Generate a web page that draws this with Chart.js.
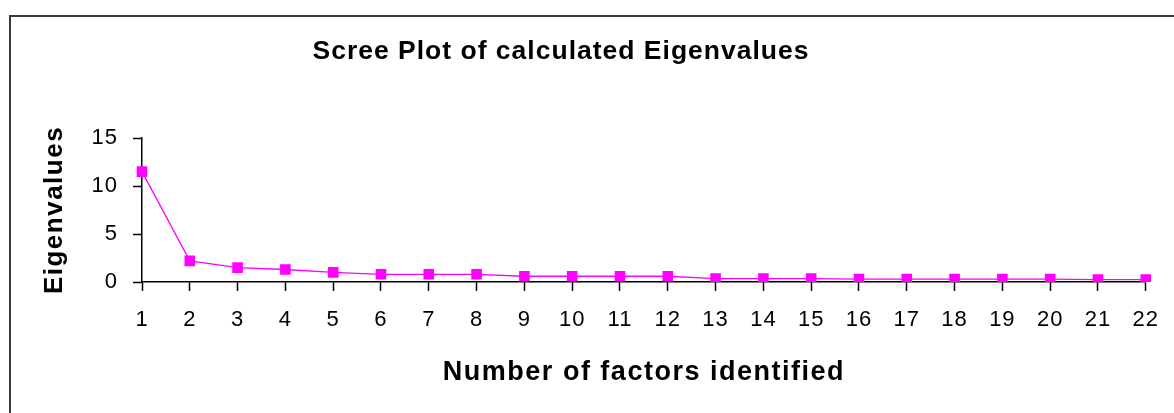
<!DOCTYPE html>
<html>
<head>
<meta charset="utf-8">
<script src="https://cdn.jsdelivr.net/npm/chart.js@4"></script>
<style>
  html, body { margin: 0; padding: 0; background: #fff; overflow: hidden; }
  body { width: 1174px; height: 413px; position: relative; }
  /* canvas sits 27px left of the page so the title centres where the original does */
  #myChart { position: absolute; left: -27px; top: 0; }
  #frame { position: absolute; left: 9px; top: 15px; width: 1300px; height: 500px;
           border-left: 2px solid #3a3a3a; border-top: 2px solid #3a3a3a; pointer-events: none; }
</style>
</head>
<body>
<canvas id="myChart" width="1201" height="413"></canvas>
<div id="frame"></div>
<script>
factors = ["1","2","3","4","5","6","7","8","9","10","11","12","13","14","15","16","17","18","19","20","21","22"];
eigenvalues = [11.5, 2.2, 1.5, 1.3, 1.0, 0.8, 0.8, 0.8, 0.6, 0.6, 0.6, 0.6, 0.35, 0.35, 0.35, 0.3, 0.3, 0.3, 0.3, 0.3, 0.25, 0.25];
yTicks = [0, 5, 10, 15];

const FONT = "'Liberation Sans', Arial, sans-serif";

// excel-ish wide text: a bit of spacing everywhere, a little more on axis titles
const spacing = {
  id: 'spacing',
  beforeDraw(chart) {
    chart.ctx.letterSpacing = '1px';
    Object.values(chart.scales).forEach(s => {
      if (s._wrapped) return;
      const orig = s.drawTitle;
      s.drawTitle = function () {
        const ctx = this.ctx;
        ctx.letterSpacing = '1.5px';
        orig.call(this);
        ctx.letterSpacing = '1px';
      };
      s._wrapped = true;
    });
  }
};

function displayData() {
  const ctx = document.getElementById('myChart');

  new Chart(ctx, {
    type: 'line',
    data: {
      labels: factors,
      datasets: [{
        data: eigenvalues,
        borderColor: "#ff00ff",
        borderWidth: 1.3,
        backgroundColor: "#ff00ff",
        pointStyle: 'rect',
        pointRadius: 7.5,
        pointBorderWidth: 0,
        pointBackgroundColor: "#ff00ff",
        tension: 0
      }]
    },
    options: {
      responsive: false,
      animation: false,
      layout: { padding: { left: 0, right: 25, top: 0, bottom: 0 } },
      plugins: {
        legend: { display: false },
        tooltip: { enabled: false },
        title: {
          display: true,
          text: "Scree Plot of calculated Eigenvalues",
          color: "#000",
          font: { family: FONT, size: 26.5, weight: 'bold' },
          padding: { top: 35.6, bottom: 70.6 }
        }
      },
      scales: {
        x: {
          offset: false,
          afterFit: s => { s.height = 131; },
          grid: { display: true, drawOnChartArea: false, drawTicks: true, tickLength: 9,
                  tickColor: "#000", tickWidth: 1.5, offset: false },
          border: { color: "#000", width: 1.5 },
          ticks: { color: "#000", font: { family: FONT, size: 22 }, padding: 16,
                   maxRotation: 0, autoSkip: false },
          title: { display: true, text: "Number of factors identified", color: "#000",
                   font: { family: FONT, size: 27, weight: 'bold' },
                   padding: { top: 0, bottom: 24.3 } }
        },
        y: {
          min: 0,
          max: 15,
          afterFit: s => { s.width = 169; },
          afterBuildTicks: s => { s.ticks = yTicks.map(v => ({ value: v })); },
          grid: { display: true, drawOnChartArea: false, drawTicks: true, tickLength: 9,
                  tickColor: "#000", tickWidth: 1.5 },
          border: { color: "#000", width: 1.5 },
          ticks: { color: "#000", font: { family: FONT, size: 22 }, padding: 15 },
          title: { display: true, text: "Eigenvalues", color: "#000",
                   font: { family: FONT, size: 26, weight: 'bold' },
                   padding: { top: 66.4, bottom: 0 } }
        }
      }
    },
    plugins: [spacing]
  });
}

displayData();
</script>
</body>
</html>
